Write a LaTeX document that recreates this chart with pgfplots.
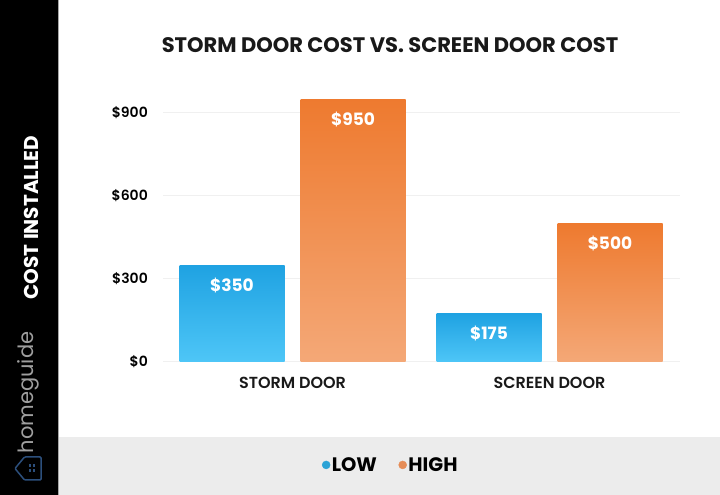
\documentclass[border=0pt]{standalone}
\usepackage{fontspec}
\setmainfont{Poppins}
\newfontfamily\pmed{Poppins Medium}
\newfontfamily\psemi{Poppins SemiBold}
\usepackage{pgfplots}
\pgfplotsset{compat=1.18}
\definecolor{blueTop}{HTML}{1FA2E2}
\definecolor{blueBot}{HTML}{4EC6F7}
\definecolor{orTop}{HTML}{EE7A2F}
\definecolor{orBot}{HTML}{F4A877}
\definecolor{blueDot}{HTML}{2BA3D6}
\definecolor{orDot}{HTML}{E68C56}
\definecolor{band}{HTML}{ECECEC}
\definecolor{gridc}{HTML}{F0F0F0}
\definecolor{house}{HTML}{2C4F7C}
\begin{document}
\begin{tikzpicture}[x=1pt,y=1pt]
\useasboundingbox (0,0) rectangle (720,495);
\fill[white] (0,0) rectangle (720,495);
\fill[black] (0,0) rectangle (58,495);
\draw[gray!70, line width=1pt] (58.5,0) -- (58.5,495);
\fill[band] (59,0) rectangle (720,58);
% sidebar text
\node[rotate=90, text=white, font=\bfseries\fontsize{20}{20}\selectfont, inner sep=0pt] at (31,277.5) {COST INSTALLED};
\node[rotate=90, text=gray!75, font=\fontsize{21}{21}\selectfont, inner sep=0pt] at (28,102.5) {homeguide};
% house icon
\draw[house, line width=1.5pt, rounded corners=1pt] (15,26.5) -- (24.5,38) -- (41,38) -- (41,15) -- (24.5,15) -- cycle;
\fill[house] (28.5,22.5) rectangle (31,25.5);
\fill[house] (32.5,22.5) rectangle (35,25.5);
\fill[house] (28.5,27.5) rectangle (31,30.5);
\fill[house] (32.5,27.5) rectangle (35,30.5);
% title
\node[font=\bfseries\fontsize{21}{21}\selectfont, text=black!90, inner sep=0pt] at (390,449.5) {STORM DOOR COST VS. SCREEN DOOR COST};
\begin{axis}[
  at={(163pt,133pt)}, anchor=south west,
  scale only axis, width=517pt, height=276.7pt,
  xmin=-0.5039, xmax=1.5078, ymin=0, ymax=1000,
  ybar,
  axis line style={draw=none}, major tick length=0pt,
  ymajorgrids, grid style={gridc, line width=1pt},
  ytick={0,300,600,900},
  yticklabels={\$0,\$300,\$600,\$900},
  yticklabel style={font=\psemi\fontsize{14}{14}\selectfont, inner sep=0pt, anchor=east, xshift=-15pt},
  xtick={0,1},
  xticklabels={STORM DOOR,SCREEN DOOR},
  xticklabel style={font=\psemi\fontsize{16}{16}\selectfont, text=black!90, inner sep=0pt, anchor=center, yshift=-21pt},
  nodes near coords={\$\pgfmathprintnumber{\pgfplotspointmeta}},
  /pgf/number format/assume math mode=true,
  every node near coord/.append style={font=\bfseries\fontsize{17}{17}\selectfont, text=white, anchor=center, yshift=-20pt},
  legend style={at={(0.440,-0.372)}, anchor=center, draw=none, fill=none,
    legend columns=2, font=\bfseries\fontsize{19.5}{19.5}\selectfont,
    /tikz/every even column/.append style={column sep=20pt},
    nodes={inner sep=1.5pt}},
  clip=false,
]
\addplot[bar width=105pt, bar shift=-60.5pt, draw=none, top color=blueTop, bottom color=blueBot, forget plot] coordinates {(0,350)};
\addplot[bar width=105pt, bar shift=60.5pt, draw=none, top color=orTop, bottom color=orBot, forget plot] coordinates {(0,950)};
\addplot[bar width=105pt, bar shift=-60.5pt, draw=none, top color=blueTop, bottom color=blueBot, forget plot] coordinates {(1,175)};
\addplot[bar width=105pt, bar shift=60.5pt, draw=none, top color=orTop, bottom color=orBot, forget plot] coordinates {(1,500)};
\addlegendimage{legend image code/.code={\fill[blueDot] (0pt,0pt) circle (4pt);}}
\addlegendentry{LOW}
\addlegendimage{legend image code/.code={\fill[orDot] (0pt,0pt) circle (4pt);}}
\addlegendentry{HIGH}
\end{axis}
\end{tikzpicture}
\end{document}
